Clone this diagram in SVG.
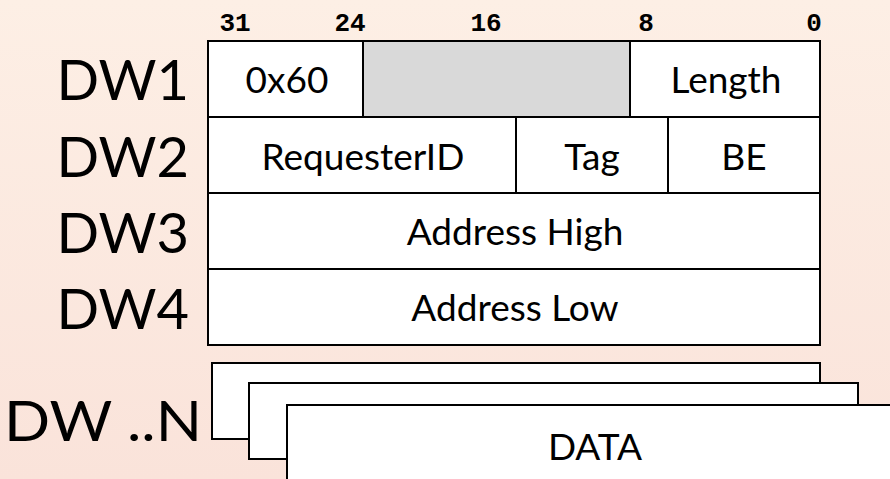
<svg xmlns="http://www.w3.org/2000/svg" width="890" height="479" viewBox="0 0 890 479">
<defs>
<linearGradient id="bg" x1="0" y1="0" x2="0" y2="1">
<stop offset="0" stop-color="#fdefe5"/>
<stop offset="1" stop-color="#fae3da"/>
</linearGradient>
</defs>
<style>
.cell{fill:#ffffff;stroke:#000;stroke-width:2}
.gray{fill:#d9d9d9;stroke:#000;stroke-width:2}
.t{font-family:Lato,"Open Sans",sans-serif;font-size:37px;fill:#000;text-anchor:middle}
.dw{font-family:Lato,"Open Sans",sans-serif;font-size:56px;fill:#000;text-anchor:end}
.bit{font-family:"Liberation Mono",monospace;font-weight:bold;font-size:26px;fill:#000;text-anchor:middle}
</style>
<rect width="890" height="479" fill="url(#bg)"/>
<g id="bits">
<text class="bit" x="235" y="31">31</text>
<text class="bit" x="350" y="31">24</text>
<text class="bit" x="486" y="31">16</text>
<text class="bit" x="646" y="31">8</text>
<text class="bit" x="814" y="31">0</text>
</g>
<g id="labels">
<text class="dw" x="189" y="100">DW1</text>
<text class="dw" x="189" y="177">DW2</text>
<text class="dw" x="189" y="253">DW3</text>
<text class="dw" x="189" y="329">DW4</text>
<text class="dw" x="202" y="441" textLength="198" lengthAdjust="spacingAndGlyphs">DW ..N</text>
</g>
<g id="dw1">
<rect class="cell" x="208" y="41" width="155" height="76"/>
<rect class="gray" x="363" y="41" width="267" height="76"/>
<rect class="cell" x="630" y="41" width="190" height="76"/>
<text class="t" x="287" y="93">0x60</text>
<text class="t" x="726" y="93">Length</text>
</g>
<g id="dw2">
<rect class="cell" x="208" y="117" width="308" height="76"/>
<rect class="cell" x="516" y="117" width="152" height="76"/>
<rect class="cell" x="668" y="117" width="152" height="76"/>
<text class="t" x="363" y="170">RequesterID</text>
<text class="t" x="592" y="170">Tag</text>
<text class="t" x="744" y="170">BE</text>
</g>
<g id="dw3">
<rect class="cell" x="208" y="193" width="612" height="76"/>
<text class="t" x="515" y="245">Address High</text>
</g>
<g id="dw4">
<rect class="cell" x="208" y="269" width="612" height="76"/>
<text class="t" x="515" y="321">Address Low</text>
</g>
<g id="data">
<rect class="cell" x="212" y="363" width="608" height="76"/>
<rect class="cell" x="249" y="383" width="609" height="76"/>
<rect class="cell" x="287" y="405" width="620" height="90"/>
<text class="t" x="595" y="460">DATA</text>
</g>
<g id="connectors"/>
</svg>
